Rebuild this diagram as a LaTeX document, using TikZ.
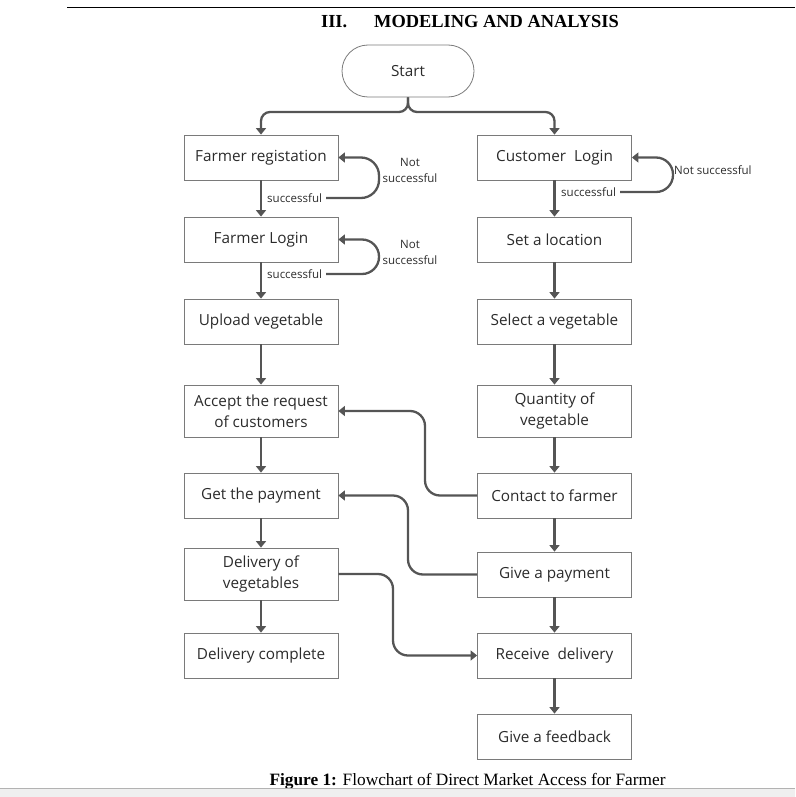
\documentclass[tikz,border=0pt]{standalone}
\usepackage{fontspec}
\setmainfont{Liberation Serif}
\newfontfamily\boxfont{Open Sans}
\usepackage{xcolor}
\usepackage{tikz}
\usetikzlibrary{shapes,arrows,positioning,calc,arrows.meta}

\definecolor{boxgray}{HTML}{7A7A7A}
\definecolor{linegray}{HTML}{555555}
\definecolor{textgray}{HTML}{2B2B2B}
\definecolor{bandgray}{HTML}{EFEFEF}

\tikzset{
  box/.style={draw=boxgray, line width=0.8pt, minimum width=154pt, minimum height=45pt,
    font=\boxfont\fontsize{15.3}{21}\selectfont, text=textgray, align=center, inner sep=2pt},
  tallbox/.style={box, minimum height=52pt},
  startbox/.style={box, rounded rectangle, minimum width=136pt, minimum height=52pt},
  flow/.style={linegray, line width=2.3pt, -{Triangle[length=6.5pt,width=10pt]}},
  note/.style={font=\boxfont\fontsize{11.5}{16}\selectfont, text=textgray, inner sep=1pt},
  oknote/.style={note, inner sep=4pt}
}

\begin{document}
\begin{tikzpicture}[x=1pt,y=-1pt]
    \useasboundingbox (0,0) rectangle (795,797);
    \draw[line width=1pt] (67,8) -- (795,8);
    \node[font=\bfseries\fontsize{18.4}{22}\selectfont] (head) at (470,22) {III.\hspace{27pt}MODELING AND ANALYSIS};

    \node[startbox] (start) at (408,71) {Start};

    % farmer side
    \node[box] (reg) at (261,157.5) {Farmer registation};
    \node[box] (flogin) at (261,239.5) {Farmer Login};
    \node[box] (upload) at (261,321.5) {Upload vegetable};
    \node[tallbox] (accept) at (261,411) {Accept the request\\of customers};
    \node[box] (getpay) at (261,495.5) {Get the payment};
    \node[tallbox] (delv) at (261,574) {Delivery of\\vegetables};
    \node[box] (dcomp) at (261,655.5) {Delivery complete};

    % customer side
    \node[box] (cust) at (554.5,157.5) {Customer\ \ Login};
    \node[box] (setloc) at (554.5,239.5) {Set a location};
    \node[box] (selveg) at (554.5,321.5) {Select a vegetable};
    \node[tallbox] (qty) at (554.5,411) {Quantity of\\vegetable};
    \node[box] (contact) at (554.5,495.5) {Contact to farmer};
    \node[box] (givepay) at (554.5,574.5) {Give a payment};
    \node[box] (recv) at (554.5,655.5) {Receive\ \ delivery};
    \node[box] (feedback) at (554.5,736.5) {Give a feedback};

    \draw[flow, rounded corners=9pt] (start.south) -- (408,112) -- (261,112) -- (reg.north);
    \draw[flow, rounded corners=9pt] (start.south) -- (408,112) -- (554.5,112) -- (cust.north);

    % loops
    \draw[flow] (reg) -- (flogin);
    \node[oknote, anchor=west] (ok1) at (263,198) {successful};
    \draw[flow, rounded corners=18pt] (ok1.east) -- (379,198) -- (379,157.5) -- (reg.east);
    \node[note, align=center] (no1) at (410,170) {Not\\successful};

    \draw[flow] (flogin) -- (upload);
    \node[oknote, anchor=west] (ok2) at (263,274) {successful};
    \draw[flow, rounded corners=17pt] (ok2.east) -- (379,274) -- (379,239.5) -- (flogin.east);
    \node[note, align=center] (no2) at (410,252) {Not\\successful};

    \draw[flow] (cust) -- (setloc);
    \node[oknote, anchor=west] (ok3) at (557,192) {successful};
    \draw[flow, rounded corners=17pt] (ok3.east) -- (673,192) -- (673,157.5) -- (cust.east);
    \node[note, anchor=west] (no3) at (673,170) {Not successful};

    \draw[flow] (upload) -- (accept);
    \draw[flow] (accept) -- (getpay);
    \draw[flow] (getpay) -- (delv);
    \draw[flow] (delv) -- (dcomp);

    \draw[flow] (setloc) -- (selveg);
    \draw[flow] (selveg) -- (qty);
    \draw[flow] (qty) -- (contact);
    \draw[flow] (contact) -- (givepay);
    \draw[flow] (givepay) -- (recv);
    \draw[flow] (recv) -- (feedback);

    % cross links
    \draw[flow, rounded corners=15pt] (contact.west) -- (425,495.5) -- (425,411) -- (accept.east);
    \draw[flow, rounded corners=15pt] (givepay.west) -- (408,574.5) -- (408,495.5) -- (getpay.east);
    \draw[flow, rounded corners=15pt] (delv.east) -- (393,574) -- (393,655.5) -- (recv.west);

    \node[font=\fontsize{17.3}{20}\selectfont] (cap) at (467.5,781) {\textbf{Figure 1:} Flowchart of Direct Market Access for Farmer};
    \fill[bandgray] (0,788) rectangle (795,797);
    \draw[gray!60] (0,788) -- (795,788);
\end{tikzpicture}
\end{document}
